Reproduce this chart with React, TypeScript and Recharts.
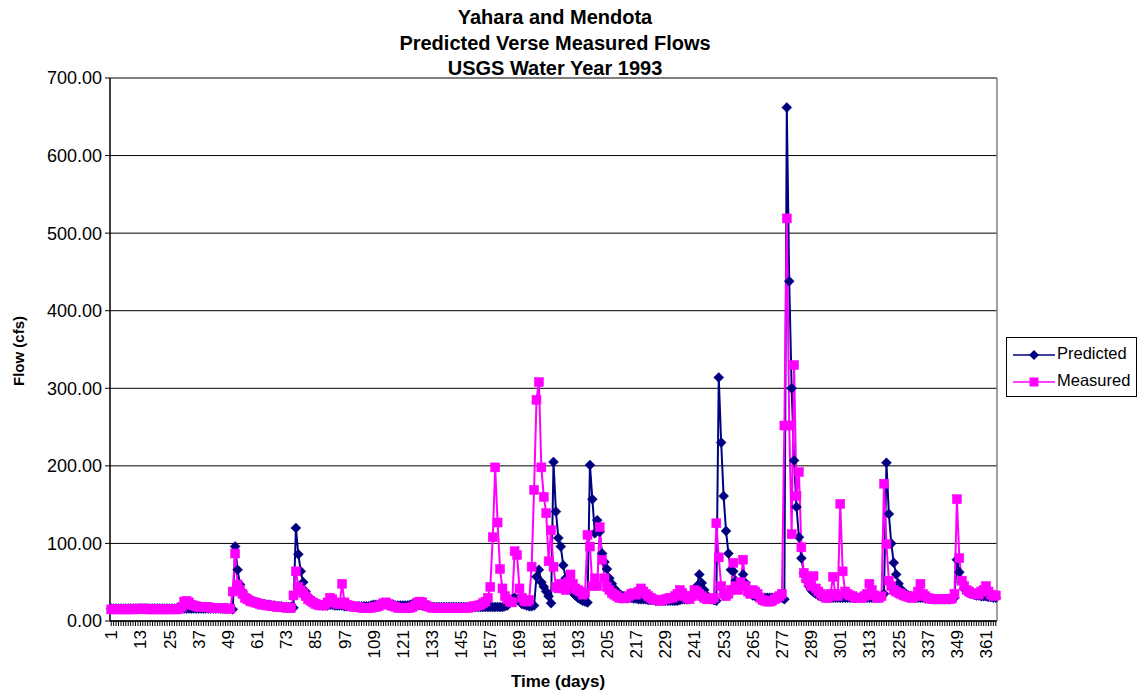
import React from 'react';
import { LineChart, Line, XAxis, YAxis, CartesianGrid, ReferenceLine } from 'recharts';

const titleLines = ['Yahara and Mendota', 'Predicted Verse Measured Flows', 'USGS Water Year 1993'];
const xLabel = 'Time (days)';
const yLabel = 'Flow (cfs)';
const seriesNames = ['Predicted', 'Measured'];
const yTicks = [0, 100, 200, 300, 400, 500, 600, 700];

const predicted = [
  16, 16, 16, 16, 16, 16, 16, 16, 16, 16,
  16, 16, 16, 16, 16, 16, 16, 16, 16, 16,
  16, 16, 16, 16, 16, 16, 16, 16, 16, 16,
  16, 16, 16, 16, 16, 16, 16, 16, 16, 16,
  16, 16, 16, 16, 16, 16, 16, 16, 16, 16,
  15, 96, 66, 47, 38, 33, 30, 28, 26, 25,
  24, 23, 22, 22, 21, 21, 20, 20, 19, 19,
  19, 18, 18, 18, 18, 17, 120, 86, 64, 50,
  38, 32, 28, 25, 23, 22, 21, 20, 20, 20,
  21, 21, 20, 20, 20, 20, 19, 19, 19, 19,
  19, 19, 19, 19, 19, 19, 19, 20, 21, 21,
  21, 21, 22, 22, 22, 21, 21, 20, 20, 20,
  20, 20, 20, 21, 22, 22, 22, 21, 20, 20,
  19, 19, 18, 18, 18, 18, 18, 18, 18, 18,
  18, 18, 18, 18, 18, 18, 18, 18, 18, 18,
  18, 18, 18, 18, 18, 18, 18, 18, 18, 18,
  18, 18, 19, 20, 24, 28, 30, 28, 25, 22,
  21, 20, 19, 19, 20, 57, 66, 50, 44, 38,
  32, 23, 205, 141, 107, 96, 72, 55, 45, 40,
  36, 33, 30, 28, 26, 25, 24, 201, 157, 113,
  130, 115, 87, 76, 67, 55, 48, 42, 38, 35,
  33, 32, 31, 30, 30, 29, 29, 28, 28, 28,
  28, 27, 27, 27, 26, 26, 26, 26, 26, 26,
  26, 26, 26, 26, 27, 28, 28, 28, 28, 30,
  35, 45, 60, 49, 40, 33, 30, 28, 27, 26,
  314, 230, 161, 116, 87, 66, 64, 52, 45, 48,
  60, 49, 40, 36, 33, 32, 31, 30, 30, 30,
  30, 30, 30, 30, 30, 30, 30, 28, 662, 438,
  300, 207, 147, 108, 81, 62, 52, 45, 40, 37,
  35, 33, 32, 31, 30, 30, 30, 30, 30, 30,
  30, 30, 30, 30, 30, 30, 30, 30, 30, 30,
  30, 30, 30, 30, 30, 30, 30, 32, 35, 204,
  138, 100, 75, 60, 48, 41, 37, 35, 33, 32,
  31, 30, 30, 30, 30, 29, 29, 29, 28, 28,
  28, 28, 28, 28, 28, 28, 29, 30, 79, 63,
  50, 42, 38, 36, 35, 34, 33, 33, 32, 32,
  32, 31, 31, 30, 30,
];

const measured = [
  15, 15, 15, 15, 15, 15, 15, 15, 15, 15,
  15, 16, 16, 16, 16, 15, 15, 15, 15, 15,
  15, 15, 15, 15, 15, 15, 15, 15, 16, 18,
  25, 26, 24, 21, 20, 19, 18, 18, 18, 18,
  18, 17, 17, 17, 17, 17, 17, 16, 16, 16,
  38, 87, 47, 40, 35, 30, 28, 26, 25, 24,
  23, 22, 21, 21, 20, 20, 19, 19, 18, 18,
  18, 18, 17, 17, 17, 33, 64, 44, 40, 36,
  32, 28, 26, 24, 22, 21, 20, 20, 21, 24,
  30, 28, 24, 22, 22, 48, 24, 21, 20, 19,
  18, 18, 18, 17, 17, 17, 17, 17, 18, 18,
  19, 21, 23, 24, 22, 20, 19, 18, 17, 17,
  17, 17, 17, 17, 18, 20, 24, 25, 24, 21,
  19, 18, 17, 17, 17, 17, 17, 17, 17, 17,
  17, 17, 17, 17, 17, 17, 17, 17, 18, 19,
  19, 20, 21, 23, 25, 30, 44, 108, 198, 127,
  67, 42, 32, 28, 25, 24, 90, 85, 42, 30,
  26, 25, 27, 70, 169, 285, 308, 198, 160, 139,
  77, 117, 70, 44, 42, 48, 45, 40, 50, 60,
  48, 42, 40, 38, 34, 36, 111, 96, 45, 55,
  45, 121, 79, 55, 44, 40, 36, 34, 32, 30,
  30, 29, 30, 32, 35, 36, 34, 38, 42, 38,
  35, 32, 30, 28, 27, 27, 26, 27, 28, 29,
  30, 30, 32, 35, 40, 36, 32, 30, 28, 32,
  40, 38, 35, 32, 30, 28, 28, 28, 30, 126,
  82, 45, 35, 32, 35, 40, 75, 45, 40, 50,
  79, 45, 38, 35, 40, 38, 35, 30, 27, 26,
  25, 25, 26, 28, 30, 32, 35, 252, 519, 252,
  112, 330, 161, 192, 95, 62, 55, 50, 45, 58,
  42, 38, 35, 32, 30, 30, 35, 57, 35, 32,
  151, 64, 38, 35, 33, 32, 30, 30, 30, 30,
  32, 35, 48, 40, 33, 30, 30, 32, 177, 99,
  52, 45, 40, 38, 36, 35, 33, 32, 31, 30,
  30, 32, 38, 48, 35, 32, 30, 29, 28, 28,
  28, 28, 28, 28, 28, 28, 29, 35, 157, 81,
  52, 45, 40, 38, 36, 35, 35, 34, 38, 40,
  45, 38, 34, 32, 33,
];

const days = predicted.map((_, i) => i + 1);

const data = days.map((d, i) => ({ day: d, predicted: predicted[i], measured: measured[i] }));

const NAVY = '#000080';
const MAGENTA = '#FF00FF';
const FONT = '"Liberation Sans", Arial, Helvetica, sans-serif';

const Diamond = (props: any) => {
  const { cx, cy } = props;
  if (cx == null || cy == null || isNaN(cx) || isNaN(cy)) return <g />;
  const r = 5;
  return (
    <polygon
      points={`${cx},${cy - r} ${cx + r},${cy} ${cx},${cy + r} ${cx - r},${cy}`}
      fill={NAVY}
      stroke={NAVY}
      strokeWidth={0.5}
    />
  );
};

const Square = (props: any) => {
  const { cx, cy } = props;
  if (cx == null || cy == null || isNaN(cx) || isNaN(cy)) return <g />;
  const s = 9;
  return <rect x={cx - s / 2} y={cy - s / 2} width={s} height={s} fill={MAGENTA} stroke={MAGENTA} strokeWidth={0.5} />;
};

const XTick = (props: any) => {
  const { x, y, payload } = props;
  const v = Number(payload.value);
  if ((v - 1) % 12 !== 0) return <g />;
  const tx = x + 6;
  const ty = y + 2;
  return (
    <text
      x={tx}
      y={ty}
      transform={`rotate(-90, ${tx}, ${ty})`}
      textAnchor="end"
      fontSize={17}
      fontFamily={FONT}
      fill="#000"
    >
      {v}
    </text>
  );
};

const LegendSwatch = ({ color, shape }: { color: string; shape: 'diamond' | 'square' }) => (
  <svg width={42} height={14} style={{ display: 'block' }}>
    <line x1={0} y1={7} x2={42} y2={7} stroke={color} strokeWidth={1.5} />
    {shape === 'diamond' ? (
      <polygon points="21,2 26,7 21,12 16,7" fill={color} />
    ) : (
      <rect x={16.5} y={2.5} width={9} height={9} fill={color} />
    )}
  </svg>
);

export default function App() {
  return (
    <div
      style={{
        position: 'absolute',
        left: 0,
        top: 0,
        width: 1138,
        height: 695,
        background: '#fff',
        fontFamily: FONT,
        overflow: 'hidden',
      }}
    >
      <div
        style={{
          position: 'absolute',
          left: 0,
          top: 5,
          width: 1110,
          textAlign: 'center',
          fontWeight: 'bold',
          fontSize: 20,
          lineHeight: '25.5px',
          color: '#000',
        }}
      >
        {titleLines.map((t) => (
          <div key={t}>{t}</div>
        ))}
      </div>

      <LineChart width={1138} height={695} data={data} margin={{ top: 78, right: 140, bottom: 0, left: 0 }}>
        <CartesianGrid horizontal vertical={false} stroke="#000" strokeWidth={1} />
        <ReferenceLine y={700} stroke="#808080" strokeWidth={1.5} ifOverflow="extendDomain" />
        <XAxis
          dataKey="day"
          scale="band"
          interval={0}
          height={74}
          tick={<XTick />}
          tickSize={5}
          tickLine={{ stroke: '#000' }}
          axisLine={{ stroke: '#000', strokeWidth: 1.5 }}
        />
        <YAxis
          width={110}
          domain={[0, 700]}
          ticks={yTicks}
          interval={0}
          tickFormatter={(v: number) => v.toFixed(2)}
          tick={{ fill: '#000', fontSize: 18, fontFamily: FONT }}
          tickSize={5}
          tickMargin={3}
          tickLine={{ stroke: '#000' }}
          axisLine={{ stroke: '#000', strokeWidth: 1.5 }}
        />
        <YAxis
          yAxisId="r"
          orientation="right"
          width={1}
          domain={[0, 700]}
          tick={false}
          tickLine={false}
          axisLine={{ stroke: '#808080', strokeWidth: 1.5 }}
        />
        <Line
          type="linear"
          dataKey="predicted"
          name={seriesNames[0]}
          stroke={NAVY}
          strokeWidth={2}
          dot={<Diamond />}
          activeDot={false}
          isAnimationActive={false}
        />
        <Line
          type="linear"
          dataKey="measured"
          name={seriesNames[1]}
          stroke={MAGENTA}
          strokeWidth={2}
          dot={<Square />}
          activeDot={false}
          isAnimationActive={false}
        />
      </LineChart>

      <div
        style={{
          position: 'absolute',
          left: 0,
          top: 672,
          width: 1116,
          textAlign: 'center',
          fontWeight: 'bold',
          fontSize: 17,
          color: '#000',
        }}
      >
        {xLabel}
      </div>

      <div
        style={{
          position: 'absolute',
          left: 18,
          top: 351,
          transform: 'translate(-50%, -50%) rotate(-90deg)',
          whiteSpace: 'nowrap',
          fontWeight: 'bold',
          fontSize: 15,
          color: '#000',
        }}
      >
        {yLabel}
      </div>

      <div
        style={{
          position: 'absolute',
          left: 1006,
          top: 337,
          width: 131,
          height: 60,
          border: '1px solid #000',
          boxSizing: 'border-box',
          background: '#fff',
        }}
      >
        <div style={{ position: 'absolute', left: 6, top: 10 }}>
          <LegendSwatch color={NAVY} shape="diamond" />
        </div>
        <div style={{ position: 'absolute', left: 50, top: 6, fontSize: 16.5, color: '#000' }}>{seriesNames[0]}</div>
        <div style={{ position: 'absolute', left: 6, top: 37 }}>
          <LegendSwatch color={MAGENTA} shape="square" />
        </div>
        <div style={{ position: 'absolute', left: 50, top: 33, fontSize: 16.5, color: '#000' }}>{seriesNames[1]}</div>
      </div>
    </div>
  );
}
